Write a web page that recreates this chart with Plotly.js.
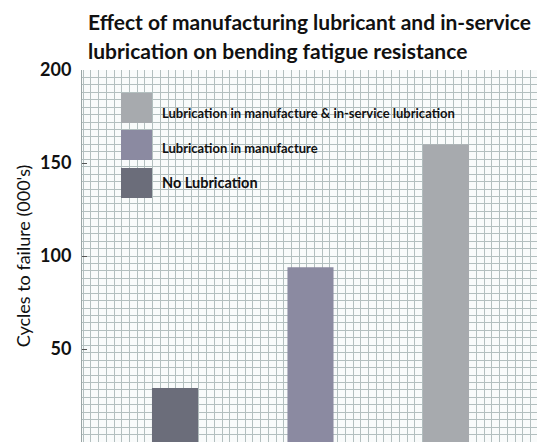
<!DOCTYPE html>
<html>
<head>
<meta charset="utf-8">
<script src="https://cdn.plot.ly/plotly-3.0.1.min.js"></script>
<style>html,body{margin:0;padding:0;background:#fff;}#chart{width:537px;height:442px;}</style>
</head>
<body>
<div id="chart"></div>
<script>
// Data
const categories = ["No Lubrication", "Lubrication in manufacture", "Lubrication in manufacture & in-service lubrication"];
const cyclesToFailure = [29, 94, 160];
const barColors = ["#6b6d7a", "#8b8aa1", "#a7aaae"];
const legendOrder = [2, 1, 0];
const yTickVals = [0, 50, 100, 150, 200];
const titleLines = ["Effect of manufacturing lubricant and in-service", "lubrication on bending fatigue resistance"];

// Layout helpers (pixel -> paper)
const W = 537, H = 442, ML = 82, MT = 70;
const PW = W - ML, PH = H - MT;
const px = x => (x - ML) / PW;
const py = y => (H - y) / PH;

const trace = {
  type: 'bar',
  x: categories.map((c, i) => i),
  y: cyclesToFailure,
  width: 0.34,
  marker: {color: barColors, line: {width: 0}},
  hoverinfo: 'skip',
  showlegend: false
};

const shapes = [];
const annotations = [];
const swatchTop = [93, 130, 168];
const textY = [113, 148, 182];
const textSize = [13, 13, 14.5];
legendOrder.forEach((idx, k) => {
  shapes.push({type: 'rect', xref: 'paper', yref: 'paper',
    x0: px(121), x1: px(152), y0: py(swatchTop[k] + 30), y1: py(swatchTop[k]),
    fillcolor: barColors[idx], line: {width: 0}, layer: 'above'});
  annotations.push({xref: 'paper', yref: 'paper', x: px(160), y: py(textY[k]),
    xanchor: 'left', yanchor: 'middle', showarrow: false, text: categories[idx],
    font: {family: 'Lato, sans-serif', size: textSize[k], color: '#111', weight: 'bold'}});
});
// Title lines
const titleY = [22, 50];
titleLines.forEach((t, k) => {
  annotations.push({xref: 'paper', yref: 'paper', x: px(86), y: py(titleY[k]),
    xanchor: 'left', yanchor: 'middle', showarrow: false, text: t,
    font: {family: 'Lato, sans-serif', size: 21, color: '#111', weight: 'bold'}});
});

const layout = {
  width: W, height: H,
  margin: {l: ML, r: 0, t: MT, b: 0},
  paper_bgcolor: '#ffffff',
  plot_bgcolor: '#f9fbfb',
  showlegend: false,
  xaxis: {
    range: [-0.6863, 2.6716],
    tick0: -0.677, dtick: 0.0569,
    showgrid: true, gridcolor: '#b3bfbf', gridwidth: 1,
    showticklabels: false, ticks: '', zeroline: false,
    showline: true, linecolor: '#9aa5a5', linewidth: 1, mirror: false,
    fixedrange: true
  },
  yaxis: {
    range: [0, 200],
    tickvals: yTickVals,
    ticks: 'inside', ticklen: 5, tickcolor: '#555',
    showgrid: false, zeroline: false,
    minor: {dtick: 4, tick0: 0, showgrid: true, gridcolor: '#b3bfbf', gridwidth: 1, ticks: ''},
    tickfont: {family: 'Lato, sans-serif', size: 18, color: '#111', weight: 'bold'},
    ticklabelstandoff: 6,
    title: {text: "Cycles to failure (000's)", standoff: 4,
      font: {family: 'Lato, sans-serif', size: 18, color: '#111'}},
    showline: true, linecolor: '#9aa5a5', linewidth: 1,
    fixedrange: true
  },
  shapes: shapes,
  annotations: annotations
};

Plotly.newPlot('chart', [trace], layout, {displayModeBar: false, staticPlot: true});
</script>
</body>
</html>
